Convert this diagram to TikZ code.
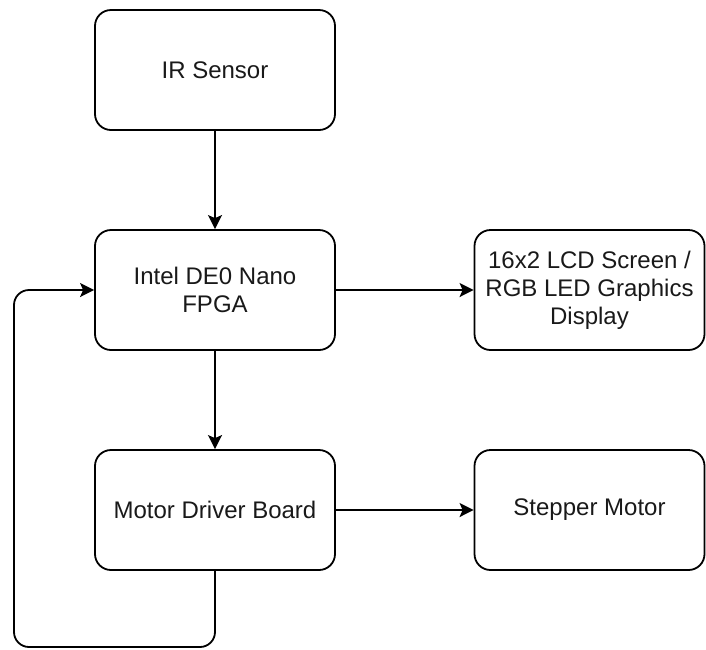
\documentclass[tikz,border=0pt]{standalone}
\usepackage{fontspec}
\setmainfont{Liberation Sans}
\usetikzlibrary{arrows.meta}
\tikzset{
  blk/.style={draw=black, line width=1.8pt, rounded corners=16pt, minimum width=240pt, minimum height=120pt,
    inner sep=0pt, align=center, font=\fontsize{24}{28}\selectfont, text=black!90},
  link/.style={draw=black, line width=1.8pt, -{Stealth[length=14pt,width=14pt,inset=3pt]}}
}
\begin{document}
\begin{tikzpicture}[x=1pt,y=-1pt]
\useasboundingbox (0,0) rectangle (706,649);
\node[blk] (ir) at (215,70) {IR Sensor};
\node[blk] (fpga) at (215,290) {Intel DE0 Nano\\FPGA};
\node[blk] (mdb) at (215,510) {Motor Driver Board};
\node[blk, minimum width=230pt] (lcd) at (589.5,290) {16x2 LCD Screen /\\RGB LED Graphics\\Display};
\node[blk, minimum width=230pt] (stm) at (589.5,510) {Stepper Motor};
\coordinate (lb) at (14,647);
\draw[link] (ir) -- (fpga);
\draw[link] (fpga) -- (mdb);
\draw[link] (fpga) -- (lcd);
\draw[link] (mdb) -- (stm);
\draw[link, rounded corners=15pt] (mdb.south) |- (lb) |- (fpga.west);
\end{tikzpicture}
\end{document}
